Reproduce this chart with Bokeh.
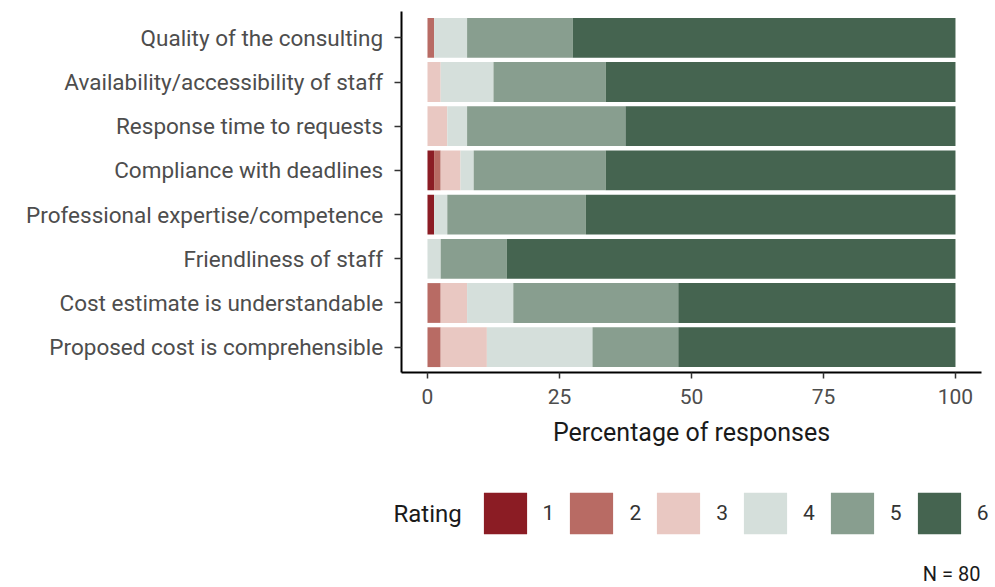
from bokeh.plotting import figure
from bokeh.models import ColumnDataSource, Range1d, FixedTicker, Legend, LegendItem, Label
from bokeh.embed import file_html
from bokeh.resources import INLINE

categories = [
    "Quality of the consulting",
    "Availability/accessibility of staff",
    "Response time to requests",
    "Compliance with deadlines",
    "Professional expertise/competence",
    "Friendliness of staff",
    "Cost estimate is understandable",
    "Proposed cost is comprehensible",
]
ratings = ["1", "2", "3", "4", "5", "6"]
r1 = [0, 0, 0, 1.25, 1.25, 0, 0, 0]
r2 = [1.25, 0, 0, 1.25, 0, 0, 2.5, 2.5]
r3 = [0, 2.5, 3.75, 3.75, 0, 0, 5, 8.75]
r4 = [6.25, 10, 3.75, 2.5, 2.5, 2.5, 8.75, 20]
r5 = [20, 21.25, 30, 25, 26.25, 12.5, 31.25, 16.25]
r6 = [72.5, 66.25, 62.5, 66.25, 70, 85, 52.5, 52.5]
colors = ["#8b1c24", "#b86b64", "#e9c8c2", "#d5dfdb", "#889e8f", "#456450"]
x_ticks = [0, 25, 50, 75, 100]
note = "N = 80"

FONT = "Roboto"
n = len(categories)
ypos = [n - i for i in range(n)]

source = ColumnDataSource(dict(y=ypos, r1=r1, r2=r2, r3=r3, r4=r4, r5=r5, r6=r6))

W, H = 995, 587
p = figure(width=W, height=H, output_backend="svg", toolbar_location=None,
           x_range=Range1d(-80.87, 107.58), y_range=Range1d(-4.437, 8.844),
           min_border=0)
p.outline_line_color = None
p.xgrid.visible = False
p.ygrid.visible = False

renderers = p.hbar_stack(["r1", "r2", "r3", "r4", "r5", "r6"], y="y", height=0.9,
                         color=colors, line_color=None, source=source)

# axes (placed inside the frame)
p.xaxis.fixed_location = 0.42
p.xaxis.bounds = (-5, 105)
p.yaxis.fixed_location = -5
p.yaxis.bounds = (0.42, 8.6)
p.yaxis.ticker = FixedTicker(ticks=ypos)
p.yaxis.major_label_overrides = {y: c for y, c in zip(ypos, categories)}
p.xaxis.ticker = FixedTicker(ticks=x_ticks)
p.xaxis.axis_label = "Percentage of responses"
for ax in (p.xaxis[0], p.yaxis[0]):
    ax.axis_line_color = "black"
    ax.axis_line_width = 2
    ax.major_tick_line_color = "#333333"
    ax.major_tick_line_width = 1.5
    ax.major_tick_in = 0
    ax.minor_tick_line_color = None
    ax.major_label_text_font = FONT
    ax.major_label_text_color = "#4d4d4d"
p.yaxis.major_tick_out = 7
p.yaxis.major_label_standoff = 11
p.yaxis.major_label_text_font_size = "22.5px"
p.xaxis.major_tick_out = 6
p.xaxis.major_label_standoff = 10
p.xaxis.major_label_text_font_size = "21px"
p.xaxis.axis_label_text_font = FONT
p.xaxis.axis_label_text_font_size = "25px"
p.xaxis.axis_label_text_font_style = "normal"
p.xaxis.axis_label_text_color = "#1a1a1a"
p.xaxis.axis_label_standoff = 11

# legend (bar legend glyphs are inset by 10% on each side)
items = [LegendItem(label=r, renderers=[rend]) for r, rend in zip(ratings, renderers)]
legend = Legend(items=items, orientation="horizontal", location=(477.6, 47.8),
                glyph_width=54, glyph_height=52, label_standoff=11, label_width=11,
                spacing=10, padding=0, margin=0, border_line_color=None,
                background_fill_alpha=0, label_text_font=FONT,
                label_text_font_size="21px", label_text_color="#333333")
p.add_layout(legend)

p.add_layout(Label(x=393, y=74, x_units="screen", y_units="screen", text="Rating",
                   text_font=FONT, text_font_size="24px", text_color="#1a1a1a",
                   text_baseline="middle", text_align="left"))
p.add_layout(Label(x=980, y=13.5, x_units="screen", y_units="screen", text=note,
                   text_font=FONT, text_font_size="20px", text_color="#1a1a1a",
                   text_baseline="middle", text_align="right"))

open("out.html", "w").write(file_html(p, INLINE))
